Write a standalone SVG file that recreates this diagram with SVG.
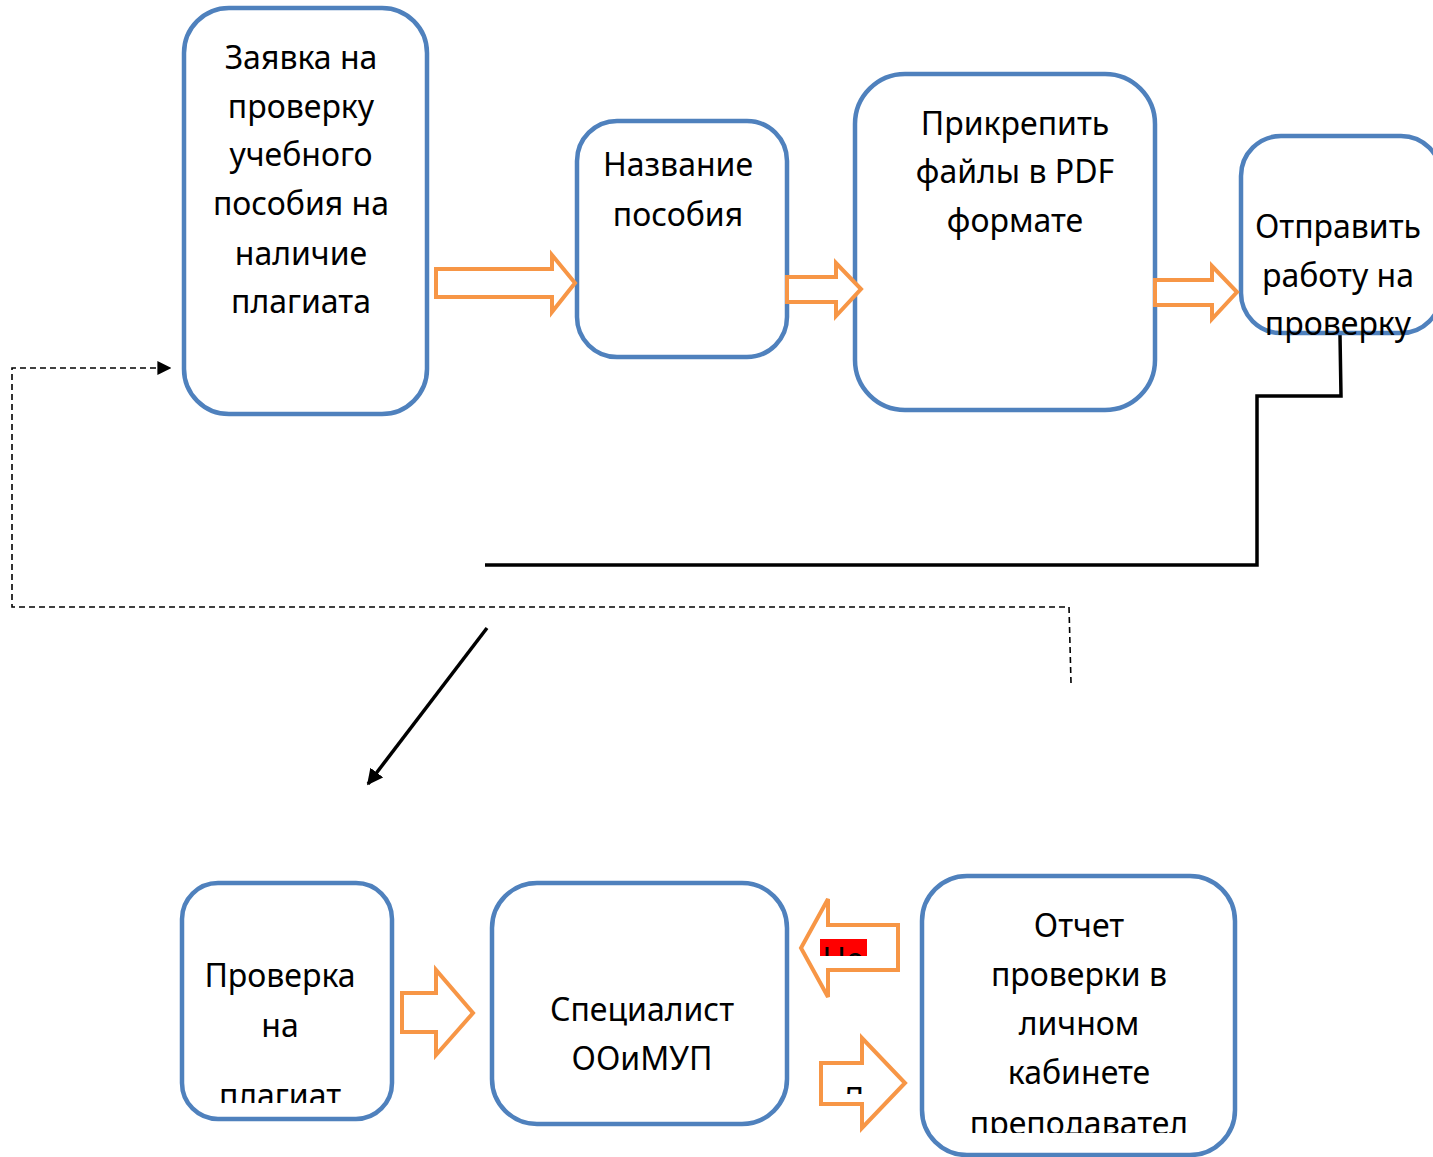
<svg xmlns="http://www.w3.org/2000/svg" width="1433" height="1157" viewBox="0 0 1433 1157">
<style>
.box{fill:#fff;stroke:#4F81BD;stroke-width:4.5}
.barrow{fill:#fff;stroke:#F79646;stroke-width:4;stroke-linejoin:miter}
.t{font-family:"Noto Sans","DejaVu Sans",sans-serif;font-size:32px;fill:#000;text-anchor:middle}
.conn{fill:none;stroke:#000;stroke-width:3.5}
.dash{fill:none;stroke:#000;stroke-width:1.6;stroke-dasharray:6 4}
</style>
<defs>
<marker id="tri2" viewBox="0 0 10 10" refX="9" refY="5" markerWidth="16" markerHeight="16" orient="auto" markerUnits="userSpaceOnUse">
<path d="M0,0 L10,5 L0,10 z" fill="#000"/>
</marker>
<marker id="trid" viewBox="0 0 10 10" refX="9" refY="5" markerWidth="14" markerHeight="14" orient="auto" markerUnits="userSpaceOnUse">
<path d="M0,0 L10,5 L0,10 z" fill="#000"/>
</marker>
<clipPath id="c5"><rect x="184" y="885" width="206" height="218"/></clipPath>
<clipPath id="c7"><rect x="924" y="878" width="309" height="255"/></clipPath>
<clipPath id="cne"><rect x="820" y="939" width="47" height="17"/></clipPath>
<clipPath id="cd"><rect x="840" y="1084" width="25" height="10"/></clipPath>
</defs>

<g id="connectors">
<polyline class="conn" points="1340,335 1341,396 1257,396 1257,565 485,565"/>
<line class="conn" x1="487" y1="628" x2="368" y2="784" marker-end="url(#tri2)"/>
<polyline class="dash" points="1071,683 1069,607 12,607 12,368 170,368" marker-end="url(#trid)"/>
</g>

<g id="node1">
<rect class="box" x="184" y="8" width="243" height="406" rx="45"/>
<text class="t" x="301" y="69">Заявка на</text>
<text class="t" x="301" y="118">проверку</text>
<text class="t" x="301" y="166">учебного</text>
<text class="t" x="301" y="215">пособия на</text>
<text class="t" x="301" y="265">наличие</text>
<text class="t" x="301" y="313">плагиата</text>
</g>

<g id="node2">
<rect class="box" x="577" y="121" width="210" height="236" rx="40"/>
<text class="t" x="678" y="176">Название</text>
<text class="t" x="678" y="226">пособия</text>
</g>

<g id="node3">
<rect class="box" x="855" y="74" width="300" height="336" rx="50"/>
<text class="t" x="1015" y="135">Прикрепить</text>
<text class="t" x="1015" y="183">файлы в PDF</text>
<text class="t" x="1015" y="232">формате</text>
</g>

<g id="node4">
<rect class="box" x="1241" y="136" width="200" height="197" rx="40"/>
<text class="t" x="1338" y="238">Отправить</text>
<text class="t" x="1338" y="287">работу на</text>
<text class="t" x="1338" y="335">проверку</text>
</g>

<g id="arrow1"><polygon class="barrow" points="436,269 552,269 552,255 575,283 552,312 552,297 436,297"/></g>
<g id="arrow2"><polygon class="barrow" points="787,277 836,277 836,263 861,289 836,316 836,302 787,302"/></g>
<g id="arrow3"><polygon class="barrow" points="1155,280 1212,280 1212,266 1237,292 1212,319 1212,305 1155,305"/></g>

<g id="node5">
<rect class="box" x="182" y="883" width="210" height="236" rx="36"/>
<g clip-path="url(#c5)">
<text class="t" x="280" y="987">Проверка</text>
<text class="t" x="280" y="1037">на</text>
<text class="t" x="280" y="1107">плагиат</text>
</g>
</g>

<g id="node6">
<rect class="box" x="492" y="883" width="295" height="241" rx="45"/>
<text class="t" x="642" y="1021">Специалист</text>
<text class="t" x="642" y="1070">ООиМУП</text>
</g>

<g id="node7">
<rect class="box" x="922" y="876" width="313" height="279" rx="45"/>
<g clip-path="url(#c7)">
<text class="t" x="1079" y="937">Отчет</text>
<text class="t" x="1079" y="986">проверки в</text>
<text class="t" x="1079" y="1035">личном</text>
<text class="t" x="1079" y="1084">кабинете</text>
<text class="t" x="1079" y="1135">преподавател</text>
</g>
</g>

<g id="arrow4"><polygon class="barrow" points="402,993 436,993 436,970 473,1013 436,1055 436,1032 402,1032"/></g>

<g id="arrow-no">
<polygon class="barrow" points="898,925 828,925 828,899 801,948 828,997 828,970 898,970"/>
<rect x="820" y="939" width="47" height="17" fill="#FF0000"/>
<g clip-path="url(#cne)"><text class="t" x="843" y="971">Не</text></g>
</g>

<g id="arrow-yes">
<polygon class="barrow" points="821,1063 862,1063 862,1038 905,1083 862,1128 862,1104 821,1104"/>
<g clip-path="url(#cd)"><text class="t" x="853" y="1111">Д</text></g>
</g>
</svg>
